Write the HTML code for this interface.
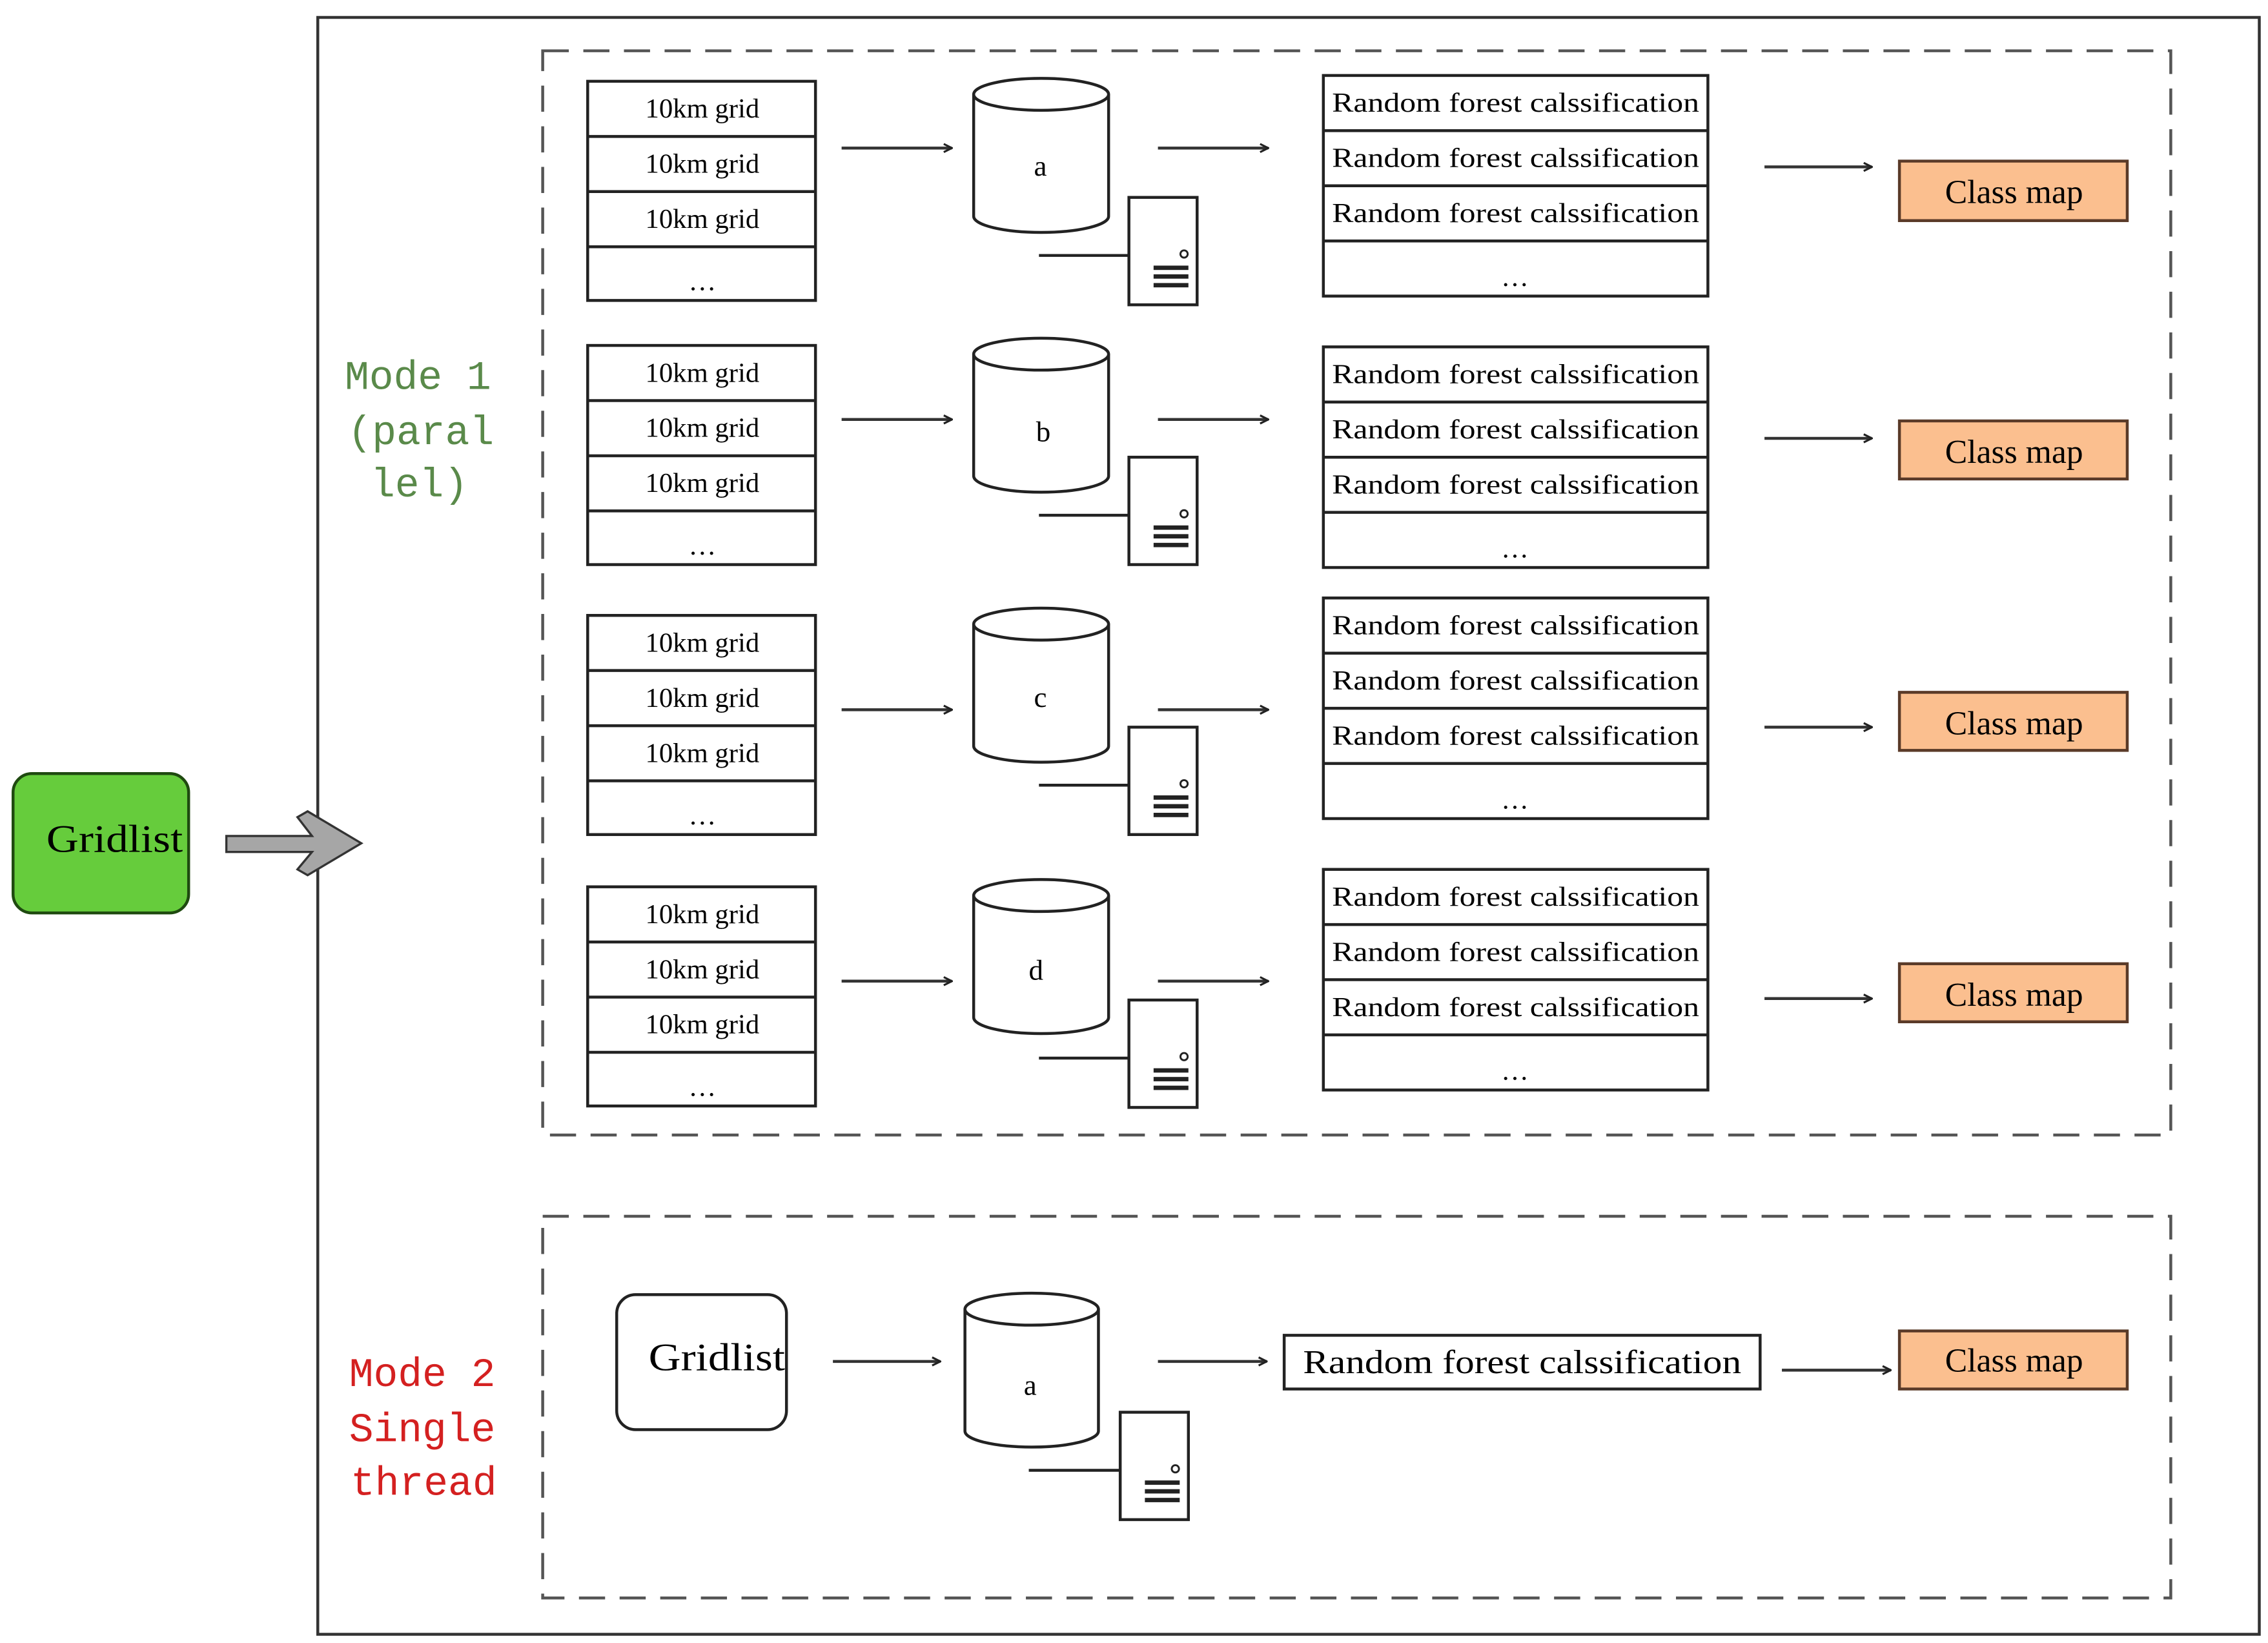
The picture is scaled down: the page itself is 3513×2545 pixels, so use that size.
<!DOCTYPE html>
<html><head><meta charset="utf-8"><style>html,body{margin:0;padding:0;background:#fff}svg{display:block}</style></head>
<body>
<svg width="3513" height="2545" viewBox="0 0 1563 1132" preserveAspectRatio="none" xmlns="http://www.w3.org/2000/svg" font-family="Liberation Serif, serif">
<defs><marker id="ah" viewBox="0 0 10 10" refX="9" refY="5" markerWidth="7" markerHeight="7" orient="auto" markerUnits="userSpaceOnUse"><path d="M1,1 L9,5 L1,9" fill="none" stroke="#222" stroke-width="2"/></marker></defs>
<rect x="219" y="12" width="1338" height="1114" fill="none" stroke="#333" stroke-width="2"/>
<rect x="374" y="35" width="1122" height="747" fill="none" stroke="#555" stroke-width="2" stroke-dasharray="18,10"/>
<rect x="374" y="838" width="1122" height="263" fill="none" stroke="#555" stroke-width="2" stroke-dasharray="18,10"/>
<rect x="9" y="533" width="121" height="96" rx="13" fill="#66cc3c" stroke="#1f4a10" stroke-width="2"/>
<text x="79" y="587" font-size="27" text-anchor="middle" textLength="94" lengthAdjust="spacingAndGlyphs">Gridlist</text>
<path d="M156,576 L215,576 L205,563 L212,559 L249,581 L212,603 L205,599 L215,587 L156,587 Z" fill="#a6a6a6" stroke="#333" stroke-width="1.5"/>
<g font-family="Liberation Mono, monospace" font-size="28" text-anchor="middle" fill="#5a8a4a">
<text x="288" y="268">Mode 1</text><text x="290" y="306">(paral</text><text x="289" y="342">lel)</text></g>
<g font-family="Liberation Mono, monospace" font-size="28" text-anchor="middle" fill="#d42020">
<text x="291" y="955">Mode 2</text><text x="291" y="993">Single</text><text x="292" y="1030">thread</text></g>

<!-- grid tables -->
<g fill="#fff" stroke="#222" stroke-width="2">
<rect x="405" y="56" width="157" height="151"/><rect x="405" y="238" width="157" height="151"/><rect x="405" y="424" width="157" height="151"/><rect x="405" y="611" width="157" height="151"/>
<rect x="912" y="52" width="265" height="152"/><rect x="912" y="239" width="265" height="152"/><rect x="912" y="412" width="265" height="152"/><rect x="912" y="599" width="265" height="152"/>
</g>
<g stroke="#222" stroke-width="2">
<path d="M405,94H562M405,132H562M405,170H562"/><path d="M405,276H562M405,314H562M405,352H562"/><path d="M405,462H562M405,500H562M405,538H562"/><path d="M405,649H562M405,687H562M405,725H562"/>
<path d="M912,90H1177M912,128H1177M912,166H1177"/><path d="M912,277H1177M912,315H1177M912,353H1177"/><path d="M912,450H1177M912,488H1177M912,526H1177"/><path d="M912,637H1177M912,675H1177M912,713H1177"/>
</g>
<g font-size="19" text-anchor="middle">
<text x="484" y="81">10km grid</text><text x="484" y="119">10km grid</text><text x="484" y="157">10km grid</text><text x="484" y="200">…</text>
<text x="484" y="263">10km grid</text><text x="484" y="301">10km grid</text><text x="484" y="339">10km grid</text><text x="484" y="382">…</text>
<text x="484" y="449">10km grid</text><text x="484" y="487">10km grid</text><text x="484" y="525">10km grid</text><text x="484" y="568">…</text>
<text x="484" y="636">10km grid</text><text x="484" y="674">10km grid</text><text x="484" y="712">10km grid</text><text x="484" y="755">…</text>
<text x="1044" y="197">…</text><text x="1044" y="384">…</text><text x="1044" y="557">…</text><text x="1044" y="744">…</text>
</g>
<g font-size="19">
<text x="918" y="77" textLength="253" lengthAdjust="spacingAndGlyphs">Random forest calssification</text>
<text x="918" y="115" textLength="253" lengthAdjust="spacingAndGlyphs">Random forest calssification</text>
<text x="918" y="153" textLength="253" lengthAdjust="spacingAndGlyphs">Random forest calssification</text>
<text x="918" y="264" textLength="253" lengthAdjust="spacingAndGlyphs">Random forest calssification</text>
<text x="918" y="302" textLength="253" lengthAdjust="spacingAndGlyphs">Random forest calssification</text>
<text x="918" y="340" textLength="253" lengthAdjust="spacingAndGlyphs">Random forest calssification</text>
<text x="918" y="437" textLength="253" lengthAdjust="spacingAndGlyphs">Random forest calssification</text>
<text x="918" y="475" textLength="253" lengthAdjust="spacingAndGlyphs">Random forest calssification</text>
<text x="918" y="513" textLength="253" lengthAdjust="spacingAndGlyphs">Random forest calssification</text>
<text x="918" y="624" textLength="253" lengthAdjust="spacingAndGlyphs">Random forest calssification</text>
<text x="918" y="662" textLength="253" lengthAdjust="spacingAndGlyphs">Random forest calssification</text>
<text x="918" y="700" textLength="253" lengthAdjust="spacingAndGlyphs">Random forest calssification</text>
</g>

<!-- cylinders + servers -->
<g fill="#fff" stroke="#222" stroke-width="2">
<path d="M671,65 V149 A46,11 0 0 0 764,149 V65"/><ellipse cx="717.5" cy="65" rx="46.5" ry="11"/>
<path d="M671,244 V328 A46,11 0 0 0 764,328 V244"/><ellipse cx="717.5" cy="244" rx="46.5" ry="11"/>
<path d="M671,430 V514 A46,11 0 0 0 764,514 V430"/><ellipse cx="717.5" cy="430" rx="46.5" ry="11"/>
<path d="M671,617 V701 A46,11 0 0 0 764,701 V617"/><ellipse cx="717.5" cy="617" rx="46.5" ry="11"/>
<path d="M665,902 V986 A46,11 0 0 0 757,986 V902"/><ellipse cx="711" cy="902" rx="46" ry="11"/>
<rect x="778" y="136" width="47" height="74"/><rect x="778" y="315" width="47" height="74"/><rect x="778" y="501" width="47" height="74"/><rect x="778" y="689" width="47" height="74"/><rect x="772" y="973" width="47" height="74"/>
<path d="M716,176H778M716,355H778M716,541H778M716,729H778M709,1013H772"/>
</g>
<g fill="#222">
<rect x="795" y="183" width="24" height="3"/><rect x="795" y="189" width="24" height="3"/><rect x="795" y="195" width="24" height="3"/>
<rect x="795" y="362" width="24" height="3"/><rect x="795" y="368" width="24" height="3"/><rect x="795" y="374" width="24" height="3"/>
<rect x="795" y="548" width="24" height="3"/><rect x="795" y="554" width="24" height="3"/><rect x="795" y="560" width="24" height="3"/>
<rect x="795" y="736" width="24" height="3"/><rect x="795" y="742" width="24" height="3"/><rect x="795" y="748" width="24" height="3"/>
<rect x="789" y="1020" width="24" height="3"/><rect x="789" y="1026" width="24" height="3"/><rect x="789" y="1032" width="24" height="3"/>
</g>
<g fill="none" stroke="#222" stroke-width="1.3">
<circle cx="816" cy="175" r="2.5"/><circle cx="816" cy="354" r="2.5"/><circle cx="816" cy="540" r="2.5"/><circle cx="816" cy="728" r="2.5"/><circle cx="810" cy="1012" r="2.5"/>
</g>
<g font-size="20" text-anchor="middle">
<text x="717" y="121">a</text><text x="719" y="304">b</text><text x="717" y="487">c</text><text x="714" y="675">d</text><text x="710" y="961">a</text>
</g>

<!-- arrows -->
<g stroke="#333" stroke-width="2" marker-end="url(#ah)">
<path d="M580,102H656"/><path d="M798,102H874"/><path d="M1216,115H1290"/>
<path d="M580,289H656"/><path d="M798,289H874"/><path d="M1216,302H1290"/>
<path d="M580,489H656"/><path d="M798,489H874"/><path d="M1216,501H1290"/>
<path d="M580,676H656"/><path d="M798,676H874"/><path d="M1216,688H1290"/>
<path d="M574,938H648"/><path d="M798,938H873"/><path d="M1228,944H1303"/>
</g>

<!-- class maps -->
<g fill="#fbbf8f" stroke="#5a3a28" stroke-width="2">
<rect x="1309" y="111" width="157" height="41"/><rect x="1309" y="290" width="157" height="40"/><rect x="1309" y="477" width="157" height="40"/><rect x="1309" y="664" width="157" height="40"/><rect x="1309" y="917" width="157" height="40"/>
</g>
<g font-size="23" text-anchor="middle">
<text x="1388" y="140">Class map</text><text x="1388" y="319">Class map</text><text x="1388" y="506">Class map</text><text x="1388" y="693">Class map</text><text x="1388" y="945">Class map</text>
</g>

<!-- mode 2 -->
<rect x="425" y="892" width="117" height="93" rx="13" fill="#fff" stroke="#222" stroke-width="2"/>
<text x="494" y="944" font-size="27" text-anchor="middle" textLength="94" lengthAdjust="spacingAndGlyphs">Gridlist</text>
<rect x="885" y="920" width="328" height="37" fill="#fff" stroke="#222" stroke-width="2"/>
<text x="898" y="946" font-size="23" textLength="302" lengthAdjust="spacingAndGlyphs">Random forest calssification</text>
</svg>
</body></html>
